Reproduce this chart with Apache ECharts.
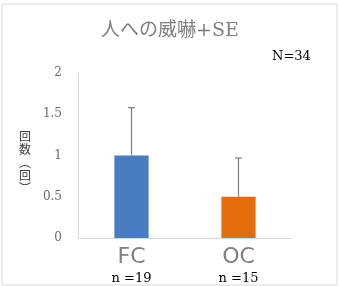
<!DOCTYPE html>
<html>
<head>
<meta charset="utf-8">
<script src="https://cdn.jsdelivr.net/npm/echarts@6/dist/echarts.min.js"></script>
<style>
  html, body { margin: 0; padding: 0; background: #fff; }
  #main { width: 340px; height: 286px; }
</style>
</head>
<body>
<div id="main"></div>
<script>
// datos
const categories = ['FC', 'OC'];
const groupSizes = ['n =19', 'n =15'];
const means = [1.0, 0.5];
const errors = [0.58, 0.47];
const barColors = ['#4a7dc0', '#e46c0a'];

const serif = '"DejaVu Serif", "Liberation Serif", "Noto Sans CJK JP", serif';

const chart = echarts.init(document.getElementById('main'));

const option = {
  animation: false,
  backgroundColor: '#fff',
  title: {
    text: '人への威嚇+SE',
    left: 'center',
    top: 17,
    textStyle: { fontFamily: serif, fontSize: 19, fontWeight: 'normal', color: '#7f7f7f' }
  },
  graphic: [
    {
      type: 'rect',
      shape: { x: 2, y: 4, width: 335, height: 281 },
      style: { fill: 'none', stroke: '#d9d9d9', lineWidth: 1 }
    },
    {
      type: 'text',
      left: 272, top: 50,
      style: { text: 'N=34', font: '13px ' + serif, fill: '#000' }
    },
    {
      type: 'text',
      left: 19, top: 130,
      style: { text: '回\n数\n︵\n回\n︶', font: '12px "Noto Sans CJK JP"', fill: '#404040', lineHeight: 13 }
    }
  ],
  grid: { left: 78, right: 48, top: 73, bottom: 48 },
  xAxis: {
    type: 'category',
    data: categories,
    axisLine: { lineStyle: { color: '#d9d9d9' } },
    axisTick: { show: false },
    axisLabel: {
      margin: 6,
      formatter: (v, i) => '{c|' + v + '}\n{n|' + groupSizes[i] + '}',
      rich: {
        c: { fontFamily: '"DejaVu Sans", sans-serif', fontSize: 22, color: '#808080', lineHeight: 26 },
        n: { fontFamily: serif, fontSize: 13, color: '#000', lineHeight: 18 }
      }
    }
  },
  yAxis: {
    type: 'value',
    min: 0,
    max: 2,
    interval: 0.5,
    axisLine: { show: true, lineStyle: { color: '#d9d9d9' } },
    axisTick: { show: false },
    splitLine: { show: false },
    axisLabel: { margin: 16, fontFamily: serif, fontSize: 12, color: '#6a6a6a' }
  },
  series: [
    {
      type: 'bar',
      barWidth: '32%',
      data: means.map((v, i) => ({ value: v, itemStyle: { color: barColors[i] } }))
    },
    {
      type: 'custom',
      data: means.map((v, i) => [i, v, v + errors[i]]),
      renderItem: (params, api) => {
        const base = api.coord([api.value(0), api.value(1)]);
        const top = api.coord([api.value(0), api.value(2)]);
        const style = { stroke: '#7f7f7f', lineWidth: 1.2 };
        return {
          type: 'group',
          children: [
            { type: 'line', shape: { x1: base[0], y1: base[1], x2: top[0], y2: top[1] }, style },
            { type: 'line', shape: { x1: top[0] - 3.5, y1: top[1], x2: top[0] + 3.5, y2: top[1] }, style }
          ]
        };
      },
      z: 3
    }
  ]
};

chart.setOption(option);
</script>
</body>
</html>
